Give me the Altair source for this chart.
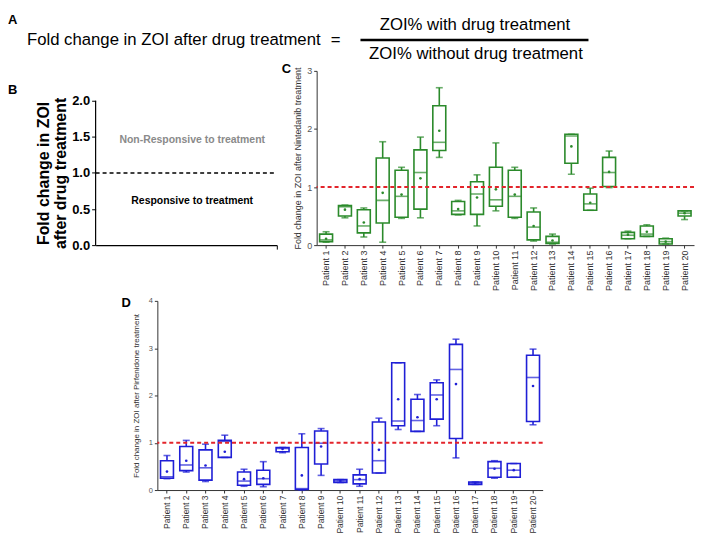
import altair as alt
import pandas as pd

FONT = "Liberation Sans"

patients = [f"Patient {i}" for i in range(1, 21)]

# Panel C: Nintedanib (min, Q1, median, Q3, max, mean)
c_min = [0.05, 0.47, 0.14, 0.05, 0.46, 0.47, 1.51, 0.52, 0.33, 0.59, 0.46, 0.07, 0.02, 1.22, 0.60, 0.99, 0.11, 0.15, 0.02, 0.44]
c_q1 = [0.06, 0.50, 0.21, 0.38, 0.48, 0.62, 1.63, 0.53, 0.53, 0.67, 0.48, 0.09, 0.03, 1.41, 0.60, 1.01, 0.11, 0.15, 0.02, 0.50]
c_med = [0.09, 0.66, 0.33, 0.77, 0.84, 1.25, 1.77, 0.59, 0.88, 0.78, 0.84, 0.31, 0.05, 1.88, 0.71, 1.25, 0.17, 0.19, 0.06, 0.55]
c_q3 = [0.19, 0.68, 0.61, 1.50, 1.29, 1.64, 2.40, 0.75, 1.09, 1.34, 1.29, 0.57, 0.15, 1.91, 0.88, 1.51, 0.22, 0.33, 0.11, 0.59]
c_max = [0.23, 0.69, 0.64, 1.78, 1.34, 1.86, 2.71, 0.77, 1.21, 1.76, 1.34, 0.64, 0.19, 1.91, 0.98, 1.62, 0.24, 0.35, 0.12, 0.59]
c_mean = [0.11, 0.61, 0.39, 0.90, 0.87, 1.15, 1.97, 0.62, 0.82, 0.96, 0.87, 0.33, 0.08, 1.70, 0.73, 1.26, 0.18, 0.23, 0.06, 0.55]

# Panel D: Pirfenidone
d_min = [0.24, 0.38, 0.18, 0.69, 0.08, 0.07, 0.79, 0.00, 0.31, 0.16, 0.08, 0.36, 1.28, 1.24, 1.36, 0.68, 0.12, 0.25, 0.27, 1.38]
d_q1 = [0.25, 0.41, 0.21, 0.69, 0.10, 0.12, 0.81, 0.01, 0.55, 0.16, 0.13, 0.36, 1.36, 1.24, 1.50, 1.09, 0.12, 0.27, 0.27, 1.45]
d_med = [0.28, 0.53, 0.47, 1.03, 0.19, 0.24, 0.88, 0.03, 0.99, 0.19, 0.22, 0.62, 1.46, 1.47, 2.01, 2.55, 0.15, 0.46, 0.42, 2.38]
d_q3 = [0.62, 0.92, 0.85, 1.05, 0.38, 0.42, 0.90, 0.90, 1.25, 0.22, 0.32, 1.44, 2.69, 1.92, 2.27, 3.08, 0.17, 0.60, 0.56, 2.85]
d_max = [0.73, 1.05, 0.97, 1.16, 0.44, 0.60, 0.90, 1.19, 1.30, 0.22, 0.44, 1.52, 2.69, 2.02, 2.33, 3.19, 0.17, 0.62, 0.56, 2.98]
d_mean = [0.39, 0.62, 0.52, 0.81, 0.23, 0.25, 0.87, 0.31, 0.92, 0.19, 0.23, 0.85, 1.92, 1.54, 1.92, 2.24, 0.15, 0.45, 0.42, 2.20]

ref_level = [1.0]

# Panel B
b_ticks = [0.0, 0.5, 1.0, 1.5, 2.0]
b_axis_span = [0.0, 2.0]
b_labels = ["Non-Responsive to treatment", "Responsive to treatment"]
b_label_y = [1.45, 0.61]

formula_left = ["Fold change in ZOI after drug treatment"]
formula_eq = ["="]
formula_num = ["ZOI% with drug treatment"]
formula_den = ["ZOI% without drug treatment"]


def text_chart(txt, x, y, size, weight="normal", align="left", baseline="top", color="black"):
    return alt.Chart(pd.DataFrame({"t": txt})).mark_text(
        align=align, baseline=baseline, font=FONT, fontSize=size, fontWeight=weight, color=color
    ).encode(text="t:N", x=alt.value(x), y=alt.value(y))


def ghost(x1, x2, y1, y2):
    # invisible rule used only to pin the layout bounds of a panel
    return alt.Chart(pd.DataFrame({"t": [0]})).mark_rule(opacity=0, strokeOpacity=0).encode(
        x=alt.value(x1), x2=alt.value(x2), y=alt.value(y1), y2=alt.value(y2)
    )


# ---------- Row A ----------
FS = 16.8
a_rule = alt.Chart(pd.DataFrame({"t": formula_num})).mark_rule(color="black", strokeWidth=2.5).encode(
    x=alt.value(266), x2=alt.value(495), y=alt.value(31)
)
row_a = alt.layer(
    ghost(0, 0, 0, 54),
    text_chart(["A"], -88, 5, 13, "bold"),
    text_chart(formula_left, -69, 31, FS, baseline="middle"),
    text_chart(formula_eq, 241, 31, FS, align="center", baseline="middle"),
    text_chart(formula_num, 381, 16, FS, align="center", baseline="middle"),
    a_rule,
    text_chart(formula_den, 382, 45, FS, align="center", baseline="middle"),
).properties(width=600, height=6)

# ---------- Panel B ----------
B_H = 175
b_top = 2.0 * B_H / 145.0
b_yscale = alt.Scale(domain=[0, b_top], nice=False)
b_ref = alt.Chart(pd.DataFrame({"y": ref_level, "x0": [0.0], "x1": [1.0]})).mark_rule(
    color="black", strokeDash=[4, 3], strokeWidth=1.5
).encode(
    x=alt.X("x0:Q", scale=alt.Scale(domain=[0, 1], nice=False),
            axis=alt.Axis(title=None, labels=False, values=[1], tickSize=4, tickColor="black",
                          domainColor="black", domainWidth=1.2, grid=False)),
    x2="x1:Q",
    y=alt.Y("y:Q", scale=b_yscale,
            axis=alt.Axis(values=b_ticks, format=".1f", title=["Fold change in ZOI", "after drug treatment"],
                          titleFont=FONT, titleFontSize=16, titleFontWeight="bold", titleColor="black",
                          titleLineHeight=17, titlePadding=3, titleY=102.5,
                          labelFont=FONT, labelFontSize=13, labelFontWeight="bold", labelColor="black",
                          tickSize=4, tickColor="black", domain=False, grid=False)),
)
b_axisline = alt.Chart(pd.DataFrame({"y0": [b_axis_span[0]], "y1": [b_axis_span[1]]})).mark_rule(
    color="black", strokeWidth=1.2
).encode(x=alt.value(0), y=alt.Y("y0:Q", scale=b_yscale), y2="y1:Q")
b_df = pd.DataFrame({"label": b_labels, "y": b_label_y})
b_non = alt.Chart(b_df.iloc[[0]]).mark_text(
    font=FONT, fontSize=10.5, fontWeight="bold", color="#8a8a8a", align="center", baseline="middle"
).encode(text="label:N", x=alt.value(97), y=alt.Y("y:Q", scale=b_yscale))
b_resp = alt.Chart(b_df.iloc[[1]]).mark_text(
    font=FONT, fontSize=10.5, fontWeight="bold", color="black", align="center", baseline="middle"
).encode(text="label:N", x=alt.value(97), y=alt.Y("y:Q", scale=b_yscale))
panel_b = alt.layer(
    b_ref, b_axisline, b_non, b_resp,
    text_chart(["B"], -88, 13, 13, "bold"),
    ghost(0, 185, 100, 100),
).properties(width=182, height=B_H)


# ---------- Box panels ----------
def box_panel(mins, q1s, meds, q3s, maxs, means, color, ymax, w, h, ytitle, title_size,
              ylabel_size, xlabel_size, box_size, cap_size, title_pad, extra):
    df = pd.DataFrame({"patient": patients, "lo": mins, "q1": q1s, "med": meds,
                       "q3": q3s, "hi": maxs, "mean": means})
    xenc = alt.X("patient:N", sort=patients, scale=alt.Scale(paddingInner=0, paddingOuter=0),
                 axis=alt.Axis(title=None, labelAngle=-90, labelFont=FONT, labelFontSize=xlabel_size,
                               labelColor="#333", tickSize=3, tickColor="#333", domainColor="#333",
                               labelPadding=2, labelOverlap=False, grid=False))
    yscale = alt.Scale(domain=[0, ymax], nice=False)
    yaxis = alt.Axis(values=list(range(ymax + 1)), format="d", title=ytitle, titleFont=FONT,
                     titleFontSize=title_size, titleFontWeight="normal", titleColor="#333",
                     titlePadding=title_pad, labelFont=FONT, labelFontSize=ylabel_size,
                     labelColor="#555", tickSize=3, tickColor="#333", domainColor="#333", grid=False)
    base = alt.Chart(df)
    sw = 1.6
    whisk = base.mark_rule(color=color, strokeWidth=sw).encode(
        x=xenc, y=alt.Y("lo:Q", scale=yscale, axis=yaxis), y2="hi:Q")
    box = base.mark_bar(size=box_size, fill="white", stroke=color, strokeWidth=sw).encode(
        x=xenc, y="q1:Q", y2="q3:Q")
    med = base.mark_tick(color=color, size=box_size, thickness=sw).encode(x=xenc, y="med:Q")
    cap_hi = base.mark_tick(color=color, size=cap_size, thickness=sw).encode(x=xenc, y="hi:Q")
    cap_lo = base.mark_tick(color=color, size=cap_size, thickness=sw).encode(x=xenc, y="lo:Q")
    mean = base.mark_circle(color=color, size=7, opacity=1).encode(x=xenc, y="mean:Q")
    ref = alt.Chart(pd.DataFrame({"r": ref_level})).mark_rule(
        color="#e3242b", strokeDash=[4, 3], strokeWidth=2).encode(y=alt.Y("r:Q", scale=yscale))
    return alt.layer(whisk, box, med, cap_hi, cap_lo, mean, ref, *extra).properties(width=w, height=h)


panel_c = box_panel(c_min, c_q1, c_med, c_q3, c_max, c_mean, "#2b8a2b", 3, 379, 175,
                    "Fold change in ZOI after Nintedanib treatment", 9, 9, 9, 13, 7, 4,
                    [text_chart(["C"], -35, -8, 13, "bold"), ghost(-35, 0, 100, 100),
                     ghost(0, 0, 200, 223)])
panel_d = box_panel(d_min, d_q1, d_med, d_q3, d_max, d_mean, "#1f1fd6", 4, 387, 190,
                    "Fold change in ZOI after Pirfenidone treatment", 8, 7.5, 8.5, 13, 7, 8,
                    [text_chart(["D"], -36, -4, 13, "bold"), ghost(-40, 0, -8, -8)])

row1 = alt.hconcat(panel_b, panel_c, spacing=2)
spacer_d = ghost(0, 22, 0, 0).properties(width=22, height=1)
row2 = alt.hconcat(spacer_d, panel_d, spacing=0)

chart = alt.vconcat(row_a, row1, row2, spacing=0).properties(
    padding=0
).configure_view(strokeWidth=0).configure_axis(grid=False)

chart.save("out.html", embed_options={"renderer": "svg", "actions": False})
